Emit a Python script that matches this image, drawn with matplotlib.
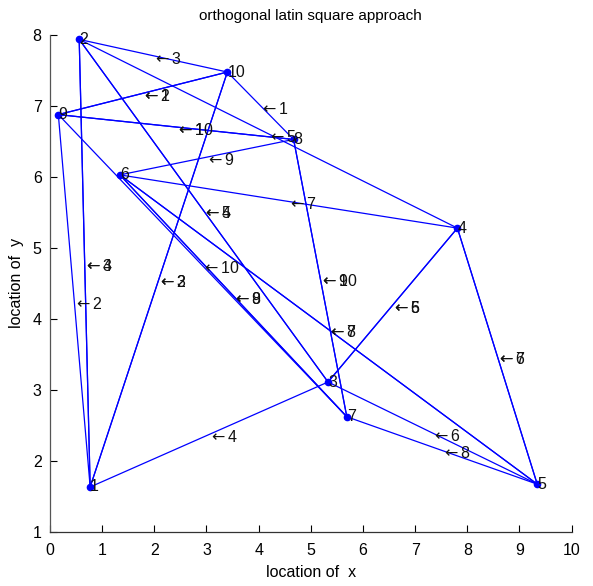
import matplotlib
matplotlib.use("Agg")
import matplotlib.pyplot as plt

plt.rcParams['font.family'] = ['Liberation Sans', 'DejaVu Sans']
plt.rcParams['mathtext.fontset'] = 'dejavusans'

# node locations (node id = index + 1)
node_x = [0.77, 0.56, 5.33, 7.81, 9.34, 1.34, 5.69, 4.67, 0.16, 3.40]
node_y = [1.63, 7.94, 3.11, 5.28, 1.67, 6.03, 2.62, 6.53, 6.88, 7.48]
node_labels = ['1', '2', '3', '4', '5', '6', '7', '8', '9', '10']

# rounds: each round is a triangle of node ids
rounds = [1, 2, 3, 4, 5, 6, 7, 8, 9, 10]
triangles = [
    (8, 9, 10),
    (9, 10, 1),
    (10, 1, 2),
    (1, 2, 3),
    (2, 3, 4),
    (3, 4, 5),
    (4, 5, 6),
    (5, 6, 7),
    (6, 7, 8),
    (7, 8, 9),
]

x_ticks = [0, 1, 2, 3, 4, 5, 6, 7, 8, 9, 10]
y_ticks = [1, 2, 3, 4, 5, 6, 7, 8]

fig = plt.figure(figsize=(5.93, 5.86), dpi=100)
ax = fig.add_axes([0.0843, 0.0927, 0.8797, 0.8473])

for r, tri in zip(rounds, triangles):
    xs = [node_x[i - 1] for i in tri] + [node_x[tri[0] - 1]]
    ys = [node_y[i - 1] for i in tri] + [node_y[tri[0] - 1]]
    ax.plot(xs, ys, color=(0, 0, 1), linewidth=0.9)
    for a, b in [(tri[0], tri[1]), (tri[1], tri[2]), (tri[2], tri[0])]:
        mx = (node_x[a - 1] + node_x[b - 1]) / 2
        my = (node_y[a - 1] + node_y[b - 1]) / 2
        ax.annotate(r'$\leftarrow$' + str(r), xy=(mx, my),
                    xytext=(-1, -2), textcoords='offset points',
                    ha='left', va='center', fontsize=11.5, color='#111111')

ax.plot(node_x, node_y, linestyle='none', marker='o', markersize=4.5,
        color=(0, 0, 1))
for x, y, lab in zip(node_x, node_y, node_labels):
    ax.text(x, y, lab, ha='left', va='center', fontsize=11.5, color='#111111')

ax.set_xlim(0, 10)
ax.set_ylim(1, 8)
ax.set_xticks(x_ticks)
ax.set_yticks(y_ticks)
ax.tick_params(direction='in', length=5, labelsize=11.5, width=0.8)
ax.tick_params(axis='x', pad=8)
ax.tick_params(axis='y', pad=6)
for s in ['top', 'right']:
    ax.spines[s].set_visible(False)
for s in ['left', 'bottom']:
    ax.spines[s].set_linewidth(0.9)
ax.spines['left'].set_color('#555555')
ax.spines['bottom'].set_color('#333333')

ax.set_title('orthogonal latin square approach', fontsize=11, pad=11)
ax.set_xlabel('location of  x', fontsize=11.5, labelpad=5)
ax.set_ylabel('location of  y', fontsize=11.5, labelpad=6)

fig.savefig('out.png', dpi=100)
